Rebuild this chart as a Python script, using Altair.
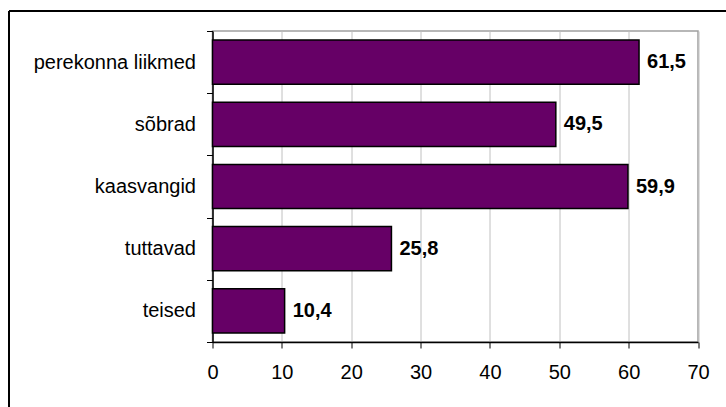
import altair as alt
import pandas as pd

categories = ["perekonna liikmed", "sõbrad", "kaasvangid", "tuttavad", "teised"]
values = [61.5, 49.5, 59.9, 25.8, 10.4]
value_labels = ["61,5", "49,5", "59,9", "25,8", "10,4"]
x_ticks = [0, 10, 20, 30, 40, 50, 60, 70]

df = pd.DataFrame({"cat": categories, "val": values, "lab": value_labels})

FONT = "Liberation Sans"

yscale = alt.Scale(domain=categories, paddingInner=0, paddingOuter=0)
xscale = alt.Scale(domain=[0, 70], nice=False)

bars = alt.Chart(df).mark_bar(color="#660066", stroke="#000000", strokeWidth=1.5,
                              height=alt.RelativeBandSize(0.71)).encode(
    x=alt.X("val:Q", scale=xscale,
            axis=alt.Axis(values=x_ticks, title=None, grid=True, gridColor="#C0C0C0", gridWidth=1,
                          domainColor="#000000", domainWidth=1.5, tickColor="#000000", tickSize=6,
                          labelFont=FONT, labelFontSize=20, labelColor="#000000", labelPadding=14,
                          labelFlush=False)),
    y=alt.Y("cat:N", scale=yscale, sort=categories,
            axis=alt.Axis(title=None, tickBand="extent", domainColor="#000000", domainWidth=1.5,
                          tickColor="#000000", tickSize=6, labelFont=FONT, labelFontSize=20,
                          labelColor="#000000", labelPadding=11, labelLimit=300)),
)

texts = alt.Chart(df).mark_text(align="left", baseline="middle", dx=8, font=FONT,
                                fontSize=20, fontWeight="bold", color="#000000").encode(
    x=alt.X("val:Q", scale=xscale),
    y=alt.Y("cat:N", scale=yscale, sort=categories),
    text="lab:N",
)

frame_top = alt.Chart(df).mark_rule(color="#000000", strokeWidth=1.5).encode(
    x=alt.value(-203.5), x2=alt.value(600), y=alt.value(-20)
)
frame_left = alt.Chart(df).mark_rule(color="#000000", strokeWidth=1.5).encode(
    x=alt.value(-203.5), y=alt.value(-20), y2=alt.value(400)
)

chart = alt.layer(bars, texts, frame_top, frame_left).properties(
    width=485.5, height=311,
    autosize=alt.AutoSizeParams(type="none"),
    padding={"left": 212.5, "top": 31, "right": 28, "bottom": 65},
    background="#FFFFFF",
).configure_view(stroke="#A0A0A0", strokeWidth=1.5)

chart.save("out.html", embed_options={"renderer": "svg", "actions": False})
